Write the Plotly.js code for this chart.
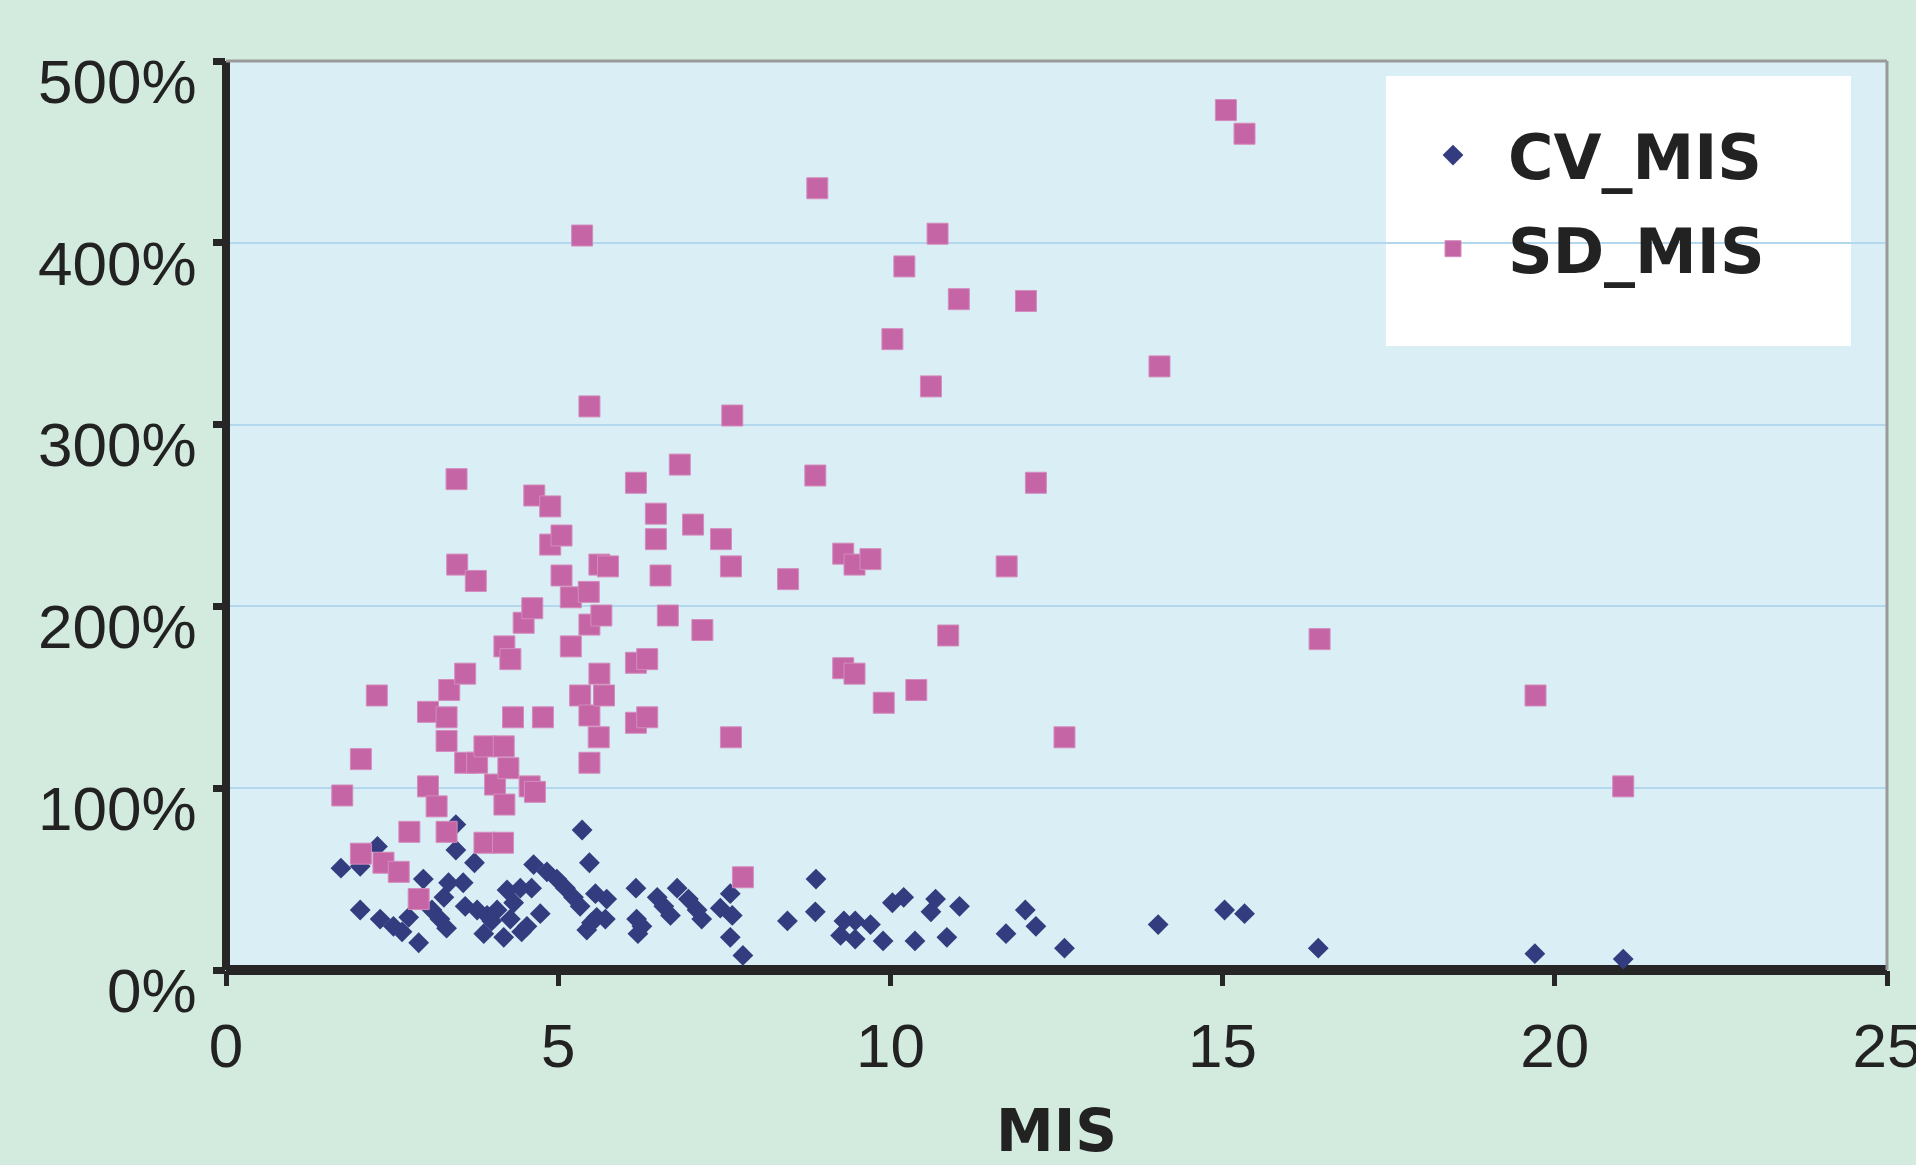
<!DOCTYPE html>
<html>
<head>
<meta charset="utf-8">
<script src="https://cdn.plot.ly/plotly-3.0.1.min.js"></script>
<style>
html,body{margin:0;padding:0;background:#d3eadf;}
#chart{width:1916px;height:1165px;}
</style>
</head>
<body>
<div id="chart"></div>
<script>
// MIS values and CV_MIS (%) values
const cvX = [1.73,2.02,2.02,2.28,2.32,2.52,2.65,2.75,2.9,2.97,3.1,3.22,3.32,3.28,3.35,3.46,3.46,3.57,3.6,3.74,3.78,3.88,3.93,4.0,4.08,4.18,4.23,4.28,4.33,4.43,4.45,4.53,4.6,4.63,4.73,4.83,4.98,5.11,5.23,5.33,5.36,5.43,5.47,5.5,5.56,5.58,5.71,5.73,6.17,6.18,6.2,6.26,6.49,6.59,6.69,6.79,6.96,7.09,7.16,7.44,7.59,7.62,7.59,7.78,8.45,8.87,8.88,9.25,9.3,9.47,9.47,9.7,9.89,10.03,10.2,10.37,10.61,10.68,10.85,11.04,11.74,12.03,12.19,12.62,14.03,15.03,15.33,16.44,19.7,21.03];
const cvY = [56,57,33,68,28,24,21,29,15,50,33,28,23,40,48,80,66,48,35,59,33,20,30,27,33,18,44,28,37,45,21,24,45,58,31,54,50,45,40,35,77,22,59,26,42,29,28,39,45,28,20,24,40,35,30,45,39,33,28,34,42,30,18,8,27,32,50,19,27,27,17,25,16,37,40,16,32,39,18,35,20,33,24,12,25,33,31,12,9,6];

// MIS values and SD_MIS (%) values
const sdX = [1.75,2.03,2.03,2.27,2.37,2.6,2.9,2.76,3.04,3.04,3.17,3.32,3.32,3.32,3.36,3.47,3.48,3.6,3.6,3.76,3.78,3.89,3.89,4.05,4.17,4.18,4.19,4.19,4.25,4.28,4.32,4.48,4.57,4.61,4.64,4.65,4.77,4.88,4.88,5.05,5.05,5.19,5.19,5.33,5.36,5.46,5.47,5.47,5.47,5.47,5.61,5.62,5.62,5.65,5.69,5.75,6.17,6.17,6.17,6.34,6.34,6.47,6.47,6.54,6.65,6.83,7.03,7.17,7.45,7.6,7.6,7.62,7.78,8.46,8.87,8.9,9.29,9.29,9.46,9.46,9.7,9.9,10.03,10.21,10.39,10.61,10.71,10.87,11.03,11.75,12.04,12.19,12.62,14.05,15.05,15.33,16.46,19.71,21.03];
const sdY = [96,116,64,151,59,54,39,76,142,101,90,139,126,76,154,270,223,163,114,214,114,123,70,102,70,123,178,91,111,171,139,191,101,199,261,98,139,255,234,239,217,205,178,151,404,208,310,190,140,114,128,223,163,195,151,222,268,169,136,171,139,251,237,217,195,278,245,187,237,222,128,305,51,215,272,430,229,166,223,163,226,147,347,387,154,321,405,184,369,222,368,268,128,332,473,460,182,151,101];

const yTicks = [0,100,200,300,400,500];
const yTickText = ['0%','100%','200%','300%','400%','500%'];
const xTicks = [0,5,10,15,20,25];
const xTickText = ['0','5','10','15','20','25'];

const textFont = 'Liberation Sans, Arial, sans-serif';
const boldFont = 'DejaVu Sans, Liberation Sans, sans-serif';

const traces = [
  {
    x: cvX, y: cvY, type: 'scatter', mode: 'markers', name: 'CV_MIS',
    legendgroup: 'a',
    marker: {symbol: 'diamond', size: 16, color: '#333c7e', line: {width: 0}}
  },
  {
    x: sdX, y: sdY, type: 'scatter', mode: 'markers', name: 'SD_MIS',
    legendgroup: 'b',
    marker: {symbol: 'square', size: 21, color: '#c565a6', line: {width: 1, color: '#d48cbc'}}
  }
];

const layout = {
  width: 1916, height: 1165,
  paper_bgcolor: '#d3eadf',
  plot_bgcolor: '#d9eff5',
  margin: {l: 226, r: 29, t: 61, b: 195},
  showlegend: true,
  legend: {
    x: 0.7056, y: 0.948, xanchor: 'left', yanchor: 'top',
    bgcolor: 'rgba(0,0,0,0)', borderwidth: 0,
    font: {family: boldFont, size: 62, color: '#222', weight: 'bold'},
    traceorder: 'grouped', tracegroupgap: 10, itemwidth: 100
  },
  xaxis: {
    range: [0, 25], tickvals: xTicks, ticktext: xTickText,
    showgrid: false, zeroline: true, zerolinecolor: '#262626', zerolinewidth: 8,
    showline: false,
    ticks: 'outside', ticklen: 15, tickwidth: 5, tickcolor: '#262626',
    tickfont: {family: textFont, size: 62, color: '#222'},
    ticklabelstandoff: 7, ticklabeloverflow: 'allow',
    title: {text: 'MIS', font: {family: boldFont, size: 58, color: '#222', weight: 'bold'}, standoff: 76}
  },
  yaxis: {
    range: [0, 500], tickvals: yTicks, ticktext: yTickText,
    showgrid: true, gridcolor: '#b3d8ee', gridwidth: 2,
    zeroline: true, zerolinecolor: '#262626', zerolinewidth: 10,
    showline: false,
    ticks: 'outside', ticklen: 12, tickwidth: 7, tickcolor: '#262626',
    tickfont: {family: textFont, size: 62, color: '#222'},
    ticklabelshift: 20, ticklabelstandoff: 4, ticklabeloverflow: 'allow'
  },
  shapes: [
    {type: 'line', xref: 'paper', yref: 'paper', x0: 0, x1: 1, y0: 1, y1: 1, line: {color: '#9a9a9a', width: 3}, layer: 'above'},
    {type: 'line', xref: 'paper', yref: 'paper', x0: 1, x1: 1, y0: 0, y1: 1, line: {color: '#9a9a9a', width: 3}, layer: 'above'},
    {type: 'rect', xref: 'paper', yref: 'paper', x0: 0.6984, x1: 0.9783, y0: 0.6865, y1: 0.9835, fillcolor: '#ffffff', line: {width: 0}, layer: 'below'}
  ]
};

Plotly.newPlot('chart', traces, layout, {displayModeBar: false, staticPlot: true});
</script>
</body>
</html>
